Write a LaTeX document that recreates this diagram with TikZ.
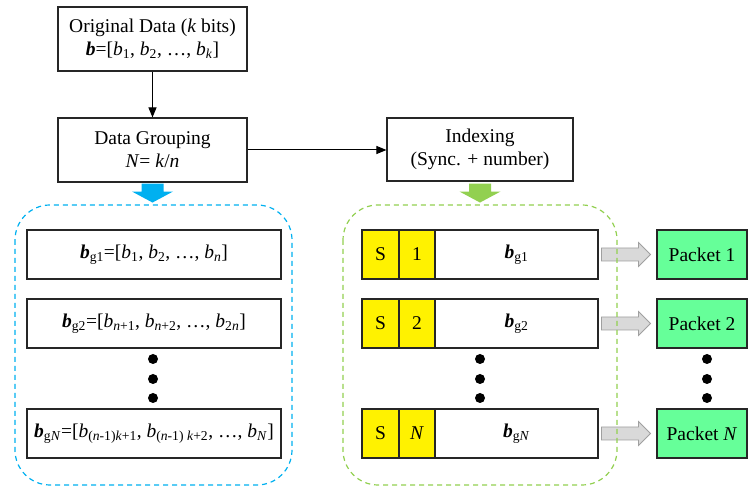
\documentclass[tikz,border=0pt]{standalone}
\usepackage{fontspec}
\setmainfont{Liberation Serif}
\usetikzlibrary{calc,arrows.meta}

\definecolor{grpblue}{RGB}{0,176,240}
\definecolor{idxgreen}{RGB}{146,208,80}
\definecolor{pktgreen}{RGB}{102,255,153}
\definecolor{arrgray}{RGB}{217,217,217}
\definecolor{arrgraydk}{RGB}{160,160,160}

\tikzset{
    box/.style={draw=black!85, line width=1.1pt, inner sep=0pt, align=center},
    ycell/.style={box, fill=yellow, minimum height=49pt},
    rowbox/.style={box, minimum height=49pt},
    frame/.style={dashed, line width=1.2pt, dash pattern=on 5pt off 4pt, rounded corners=35pt},
    flow/.style={-{Triangle[length=10pt,width=8pt]}, line width=1pt},
    downfat/.pic={\path[pic actions] (-11,0) -- (11,0) -- (11,8) -- (20.5,8) -- (0,19) -- (-20.5,8) -- (-11,8) -- cycle;},
    rightfat/.pic={\path[pic actions] (0,-6.5) -- (37,-6.5) -- (37,-12) -- (49,0) -- (37,12) -- (37,6.5) -- (0,6.5) -- cycle;}
}

\begin{document}
\begin{tikzpicture}[x=1pt, y=-1pt, font=\fontsize{19.5}{23}\selectfont]
    \useasboundingbox (0,0) rectangle (748,486);

    % Top boxes
    \node[box, minimum width=189pt, minimum height=64pt] (orig) at (152.5,39)
        {Original Data (\textit{k} bits)\\\textbf{\textit{b}}=[\textit{b}\textsubscript{1}, \textit{b}\textsubscript{2}, \dots, \textit{b}\textsubscript{\textit{k}}]};
    \node[box, minimum width=189pt, minimum height=64pt] (group) at (152.5,150)
        {Data Grouping\\\textit{N}= \textit{k}/\textit{n}};
    \node[box, minimum width=186pt, minimum height=63pt] (index) at (480,149.5)
        {Indexing\\(Sync. + number)};

    \draw[flow] (orig) -- (group);
    \draw[flow] (group.east) -- (group.east -| index.west);

    % Fat arrows down
    \pic[fill=grpblue] at ($(group.south)+(0,1)$) {downfat};
    \pic[fill=idxgreen] at ($(index.south)+(0,2)$) {downfat};

    % Groups
    \node[rowbox, minimum width=254pt] (g1) at (154,254.5)
        {\textbf{\textit{b}}\textsubscript{g1}=[\textit{b}\textsubscript{1}, \textit{b}\textsubscript{2}, \dots, \textit{b}\textsubscript{\textit{n}}]};
    \node[rowbox, minimum width=254pt] (g2) at (154,323.5)
        {\textbf{\textit{b}}\textsubscript{g2}=[\textit{b}\textsubscript{\textit{n}+1}, \textit{b}\textsubscript{\textit{n}+2}, \dots, \textit{b}\textsubscript{2\textit{n}}]};
    \node[rowbox, minimum width=254pt] (gN) at (154,433.5)
        {\textbf{\textit{b}}\textsubscript{g\textit{N}}=[\textit{b}\textsubscript{(\textit{n}-1)\textit{k}+1}, \textit{b}\textsubscript{(\textit{n}-1) \textit{k}+2}, \dots, \textit{b}\textsubscript{\textit{N}}]};

    % Indexed groups and packets
    \foreach \i/\y/\num in {1/254.5/1, 2/323.5/2, N/433.5/\textit{N}} {
        \node[ycell, minimum width=37pt] (s\i) at (380.5,\y) {S};
        \node[ycell, minimum width=36pt] (n\i) at (417,\y) {\num};
        \node[rowbox, minimum width=163pt] (b\i) at (516.5,\y) {\textbf{\textit{b}}\textsubscript{g\num}};
        \node[rowbox, fill=pktgreen, minimum width=90pt] (p\i) at (702,\y) {Packet \num};
        \pic[fill=arrgray, draw=arrgraydk, line width=0.8pt] at ($(b\i.east)+(3,0)$) {rightfat};
    }

    % Dots
    \foreach \y in {359,379,398} {
        \fill (153,\y) circle (5pt) (480,\y) circle (5pt) (707,\y) circle (5pt);
    }

    % Dashed frames
    \draw[frame, grpblue] (15,205) rectangle (292,485);
    \draw[frame, idxgreen] (343,205) rectangle (617,485);
\end{tikzpicture}
\end{document}
